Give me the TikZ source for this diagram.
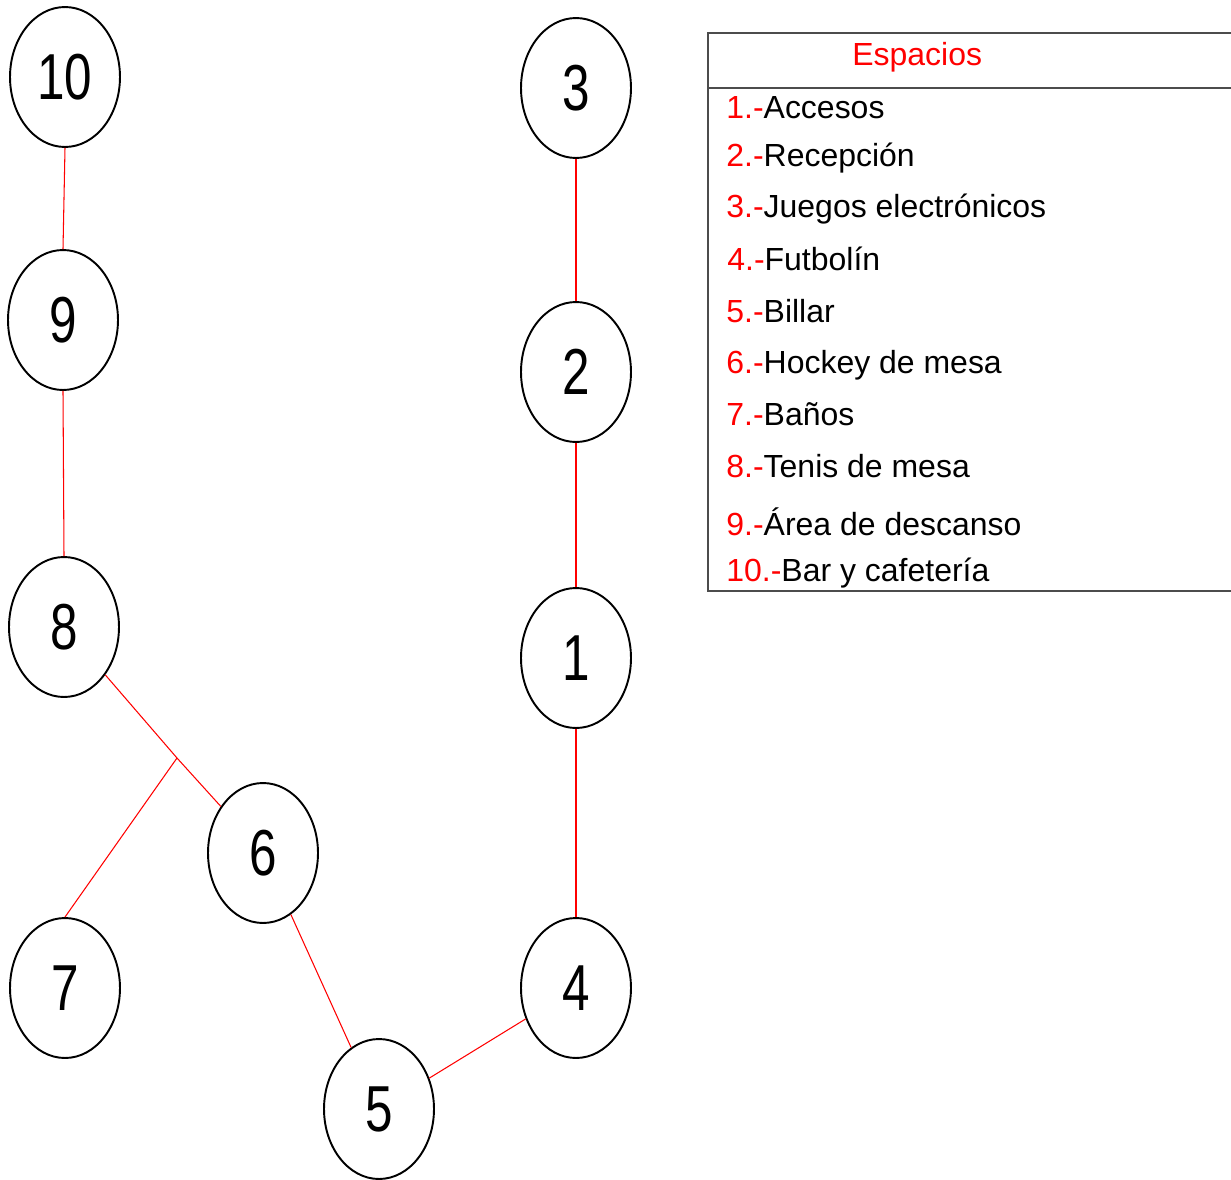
\documentclass[tikz,border=0pt]{standalone}
\usepackage{fontspec}
\setmainfont{Liberation Sans}
\newfontfamily\numfont[FakeStretch=0.76]{Liberation Sans}
\usetikzlibrary{shapes.geometric}

\begin{document}
\begin{tikzpicture}[x=0.02cm, y=-0.02cm]
    \tikzstyle{espacio} = [ellipse, draw, line width=1.1pt, inner sep=0pt, minimum width=2.2cm, minimum height=2.8cm, font=\numfont\fontsize{37}{40}\selectfont]
    \tikzstyle{enlace} = [red, line width=0.6pt]
    \tikzstyle{item} = [anchor=base west, inner sep=0pt, font=\fontsize{18.2}{20}\selectfont]

    \useasboundingbox (0,0) rectangle (1231,1180);

    % Espacios (nodos)
    \node[espacio] (n10) at (65,77) {10};
    \node[espacio] (n9) at (63,320) {9};
    \node[espacio] (n8) at (64,627) {8};
    \node[espacio] (n7) at (65,988) {7};
    \node[espacio] (n6) at (263,853) {6};
    \node[espacio] (n5) at (379,1109) {5};
    \node[espacio] (n4) at (576,988) {4};
    \node[espacio] (n1) at (576,658) {1};
    \node[espacio] (n2) at (576,372) {2};
    \node[espacio] (n3) at (576,88) {3};
    \coordinate (j86) at (177,758);

    % Relaciones
    \draw[enlace] (n10.south) -- (n9.north);
    \draw[enlace] (n9.south) -- (n8.north);
    \draw[enlace] (n8) -- (j86) -- (n6);
    \draw[enlace] (j86) -- (n7.north);
    \draw[enlace] (n6) -- (n5);
    \draw[enlace] (n5) -- (n4);
    \draw[enlace] (n4) -- (n1);
    \draw[enlace] (n1) -- (n2);
    \draw[enlace] (n2) -- (n3);

    % Leyenda
    \draw[black!70, line width=0.7pt] (1231,33) -- (708,33) -- (708,591) -- (1231,591);
    \draw[black!70, line width=0.7pt] (708,88) -- (1231,88);
    \node[item, text=red] (titulo) at (852,65) {Espacios};
    \node[item] (l1) at (726,118) {\textcolor{red}{1.-}Accesos};
    \node[item] (l2) at (726,166) {\textcolor{red}{2.-}Recepción};
    \node[item] (l3) at (726,217) {\textcolor{red}{3.-}Juegos electrónicos};
    \node[item] (l4) at (727,270) {\textcolor{red}{4.-}Futbolín};
    \node[item] (l5) at (726,322) {\textcolor{red}{5.-}Billar};
    \node[item] (l6) at (726,373) {\textcolor{red}{6.-}Hockey de mesa};
    \node[item] (l7) at (726,425) {\textcolor{red}{7.-}Baños};
    \node[item] (l8) at (726,477) {\textcolor{red}{8.-}Tenis de mesa};
    \node[item] (l9) at (726,535) {\textcolor{red}{9.-}Área de descanso};
    \node[item] (l10) at (726,581) {\textcolor{red}{10.-}Bar y cafetería};
\end{tikzpicture}
\end{document}
